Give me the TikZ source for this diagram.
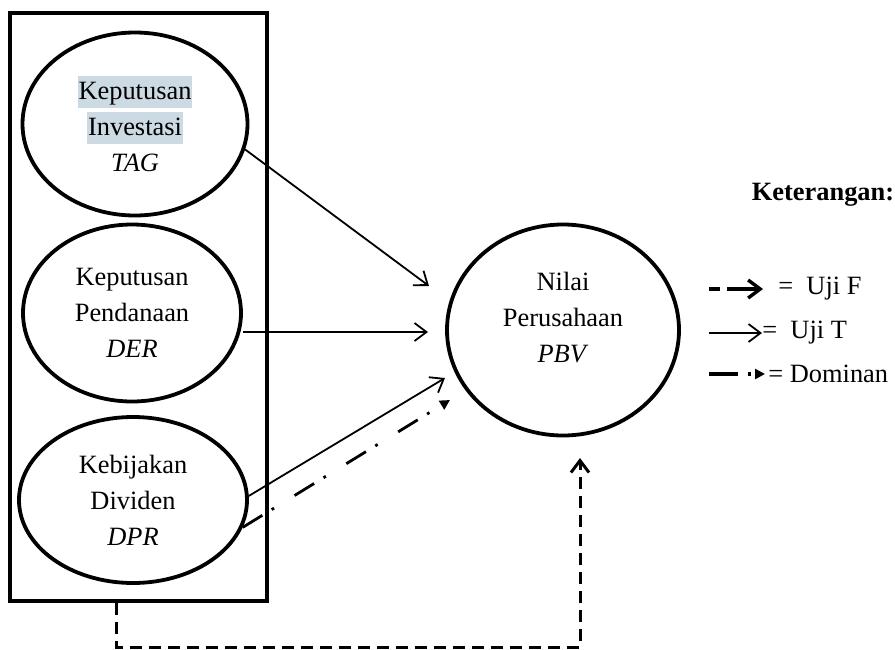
\documentclass[tikz,border=0pt]{standalone}
\usepackage{fontspec}
\setmainfont{Liberation Serif}
\usepackage{xcolor}
\usepackage{tikz}
\usetikzlibrary{shapes.geometric,arrows.meta,positioning,calc}
\definecolor{hilite}{RGB}{204,218,228}
\newcommand{\hlword}[1]{{\setlength{\fboxsep}{0.5pt}\colorbox{hilite}{\rule[-4pt]{0pt}{15pt}#1}}}

\begin{document}
\fontsize{13.2}{18}\selectfont
\begin{tikzpicture}[x=0.5pt, y=-0.5pt,
    var/.style={ellipse, draw, line width=1.9pt, inner sep=0pt, align=center},
    ujiT/.style={line width=0.9pt, -{Straight Barb[length=6pt,width=9pt]}},
    ujiF/.style={line width=1.5pt, dash pattern=on 6pt off 3.5pt, -{Straight Barb[length=6pt,width=9pt]}},
    dominan/.style={line width=1.4pt, dash pattern=on 11.5pt off 5.5pt on 1.4pt off 12pt, -{Triangle[length=5pt,width=5pt]}}]
    \useasboundingbox (0,0) rectangle (895,649);

    % variabel bebas
    \node[draw, line width=2.2pt, inner sep=0pt, minimum width=128.5pt, minimum height=294pt] (grp) at (138.5,307) {};
    \node[var, minimum width=112.5pt, minimum height=91.5pt] (inv) at (135,124) {\hlword{Keputusan}\\ \hlword{Investasi}\\ \textit{TAG}};
    \node[var, minimum width=109pt, minimum height=88.5pt] (fund) at (132,313) {Keputusan\\ Pendanaan\\ \textit{DER}};
    \node[var, minimum width=114pt, minimum height=83pt] (div) at (133,500) {Kebijakan\\ Dividen\\ \textit{DPR}};

    % variabel terikat
    \node[var, minimum width=116pt, minimum height=105.5pt, text depth=13pt] (pbv) at (563,330) {Nilai\\ Perusahaan\\ \textit{PBV}};

    \coordinate (tagT) at (429,286);
    \coordinate (derT) at (428,332);
    \coordinate (dprT) at (445,378);
    \coordinate (domT) at (450,400);
    \coordinate (fT) at (580,458);

    \draw[ujiT] (inv.-13) -- (tagT);
    \draw[ujiT] (derT -| fund.east) -- (derT);
    \draw[ujiT] (div.2) -- (dprT);
    \draw[dominan] (div.-14) -- (domT);
    \draw[ujiF] ($(grp.south west)!0.417!(grp.south east)$) -- ++(0,44) -| (fT);

    % keterangan
    \node[font=\bfseries] (ket) at (823,195) {Keterangan:};
    \node[anchor=west, inner sep=0pt] (lgF) at (778,289) {=~~Uji F};
    \node[anchor=west, inner sep=0pt] (lgT) at (762,333) {=~~Uji T};
    \node[anchor=west, inner sep=0pt] (lgD) at (768,374) {= Dominan};
    \coordinate (lgx) at (709,0);
    \draw[ujiF, line width=1.7pt, dash pattern=on 5.5pt off 3.5pt on 30pt off 3pt, shorten >=7.5pt] (lgx |- lgF.west) -- (lgF.west);
    \draw[ujiT] (lgx |- lgT.west) -- (lgT.west);
    \draw[dominan, line width=1.6pt, dash pattern=on 14.5pt off 5pt on 1.6pt off 4pt, shorten >=1.5pt] (lgx |- lgD.west) -- (lgD.west);
\end{tikzpicture}
\end{document}
